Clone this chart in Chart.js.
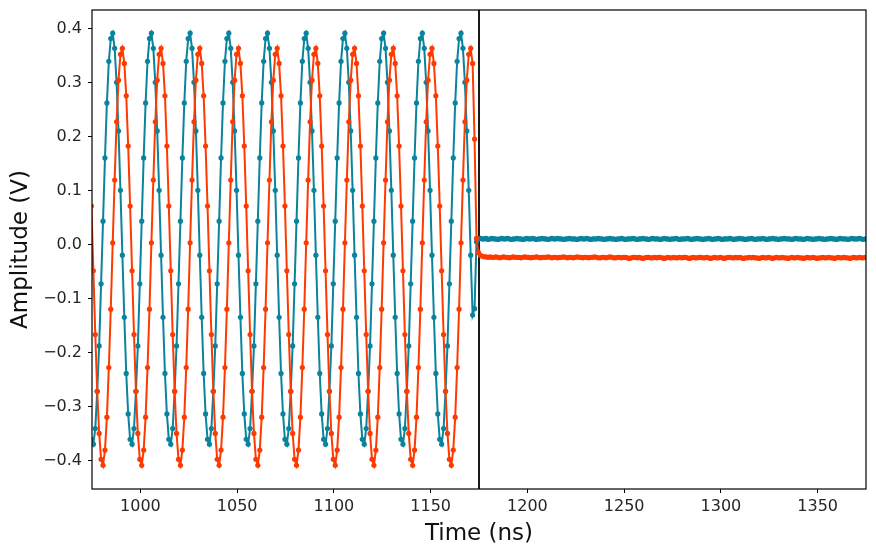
<!DOCTYPE html>
<html>
<head>
<meta charset="utf-8">
<title>Amplitude vs Time</title>
<script src="https://cdn.jsdelivr.net/npm/chart.js@4.4.1/dist/chart.umd.min.js"></script>
<style>
  html, body { margin: 0; padding: 0; background: #fff; }
  #wrap { width: 876px; height: 556px; }
</style>
</head>
<body>
<div id="wrap"><canvas id="waveChart" width="876" height="556"></canvas></div>
<script>
// sampling grid (ns): one sample per ns, first sample just left of the window
const T_START = 974.7;
const T_STEP = 1;
const MARKER_TIME = 1175;

const X_TICKS = [1000, 1050, 1100, 1150, 1200, 1250, 1300, 1350];
const Y_TICKS = [-0.4, -0.3, -0.2, -0.1, 0.0, 0.1, 0.2, 0.3, 0.4];

// channel 1 (teal), volts
const ch1Values = [
  -0.361,
  -0.370, -0.341, -0.272, -0.188, -0.073, 0.043, 0.160, 0.262, 0.339, 0.381,
  0.391, 0.363, 0.300, 0.210, 0.100, -0.020, -0.135, -0.239, -0.314, -0.361, -0.370, -0.341, -0.272, -0.188, -0.073, 0.043, 0.160, 0.262, 0.339, 0.381,
  0.391, 0.363, 0.300, 0.210, 0.100, -0.020, -0.135, -0.239, -0.314, -0.361, -0.370, -0.341, -0.272, -0.188, -0.073, 0.043, 0.160, 0.262, 0.339, 0.381,
  0.391, 0.363, 0.300, 0.210, 0.100, -0.020, -0.135, -0.239, -0.314, -0.361, -0.370, -0.341, -0.272, -0.188, -0.073, 0.043, 0.160, 0.262, 0.339, 0.381,
  0.391, 0.363, 0.300, 0.210, 0.100, -0.020, -0.135, -0.239, -0.314, -0.361, -0.370, -0.341, -0.272, -0.188, -0.073, 0.043, 0.160, 0.262, 0.339, 0.381,
  0.391, 0.363, 0.300, 0.210, 0.100, -0.020, -0.135, -0.239, -0.314, -0.361, -0.370, -0.341, -0.272, -0.188, -0.073, 0.043, 0.160, 0.262, 0.339, 0.381,
  0.391, 0.363, 0.300, 0.210, 0.100, -0.020, -0.135, -0.239, -0.314, -0.361, -0.370, -0.341, -0.272, -0.188, -0.073, 0.043, 0.160, 0.262, 0.339, 0.381,
  0.391, 0.363, 0.300, 0.210, 0.100, -0.020, -0.135, -0.239, -0.314, -0.361, -0.370, -0.341, -0.272, -0.188, -0.073, 0.043, 0.160, 0.262, 0.339, 0.381,
  0.391, 0.363, 0.300, 0.210, 0.100, -0.020, -0.135, -0.239, -0.314, -0.361, -0.370, -0.341, -0.272, -0.188, -0.073, 0.043, 0.160, 0.262, 0.339, 0.381,
  0.391, 0.363, 0.300, 0.210, 0.100, -0.020, -0.135, -0.239, -0.314, -0.361, -0.370, -0.341, -0.272, -0.188, -0.073, 0.043, 0.160, 0.262, 0.339, 0.381,
  0.391, 0.363, 0.300, 0.210, 0.100, -0.020, -0.131, -0.119, 0.005, 0.010,
  0.011, 0.010, 0.010, 0.011, 0.009, 0.010, 0.011, 0.010, 0.010, 0.009, 0.010, 0.011, 0.010, 0.010, 0.011, 0.010, 0.009, 0.010, 0.010, 0.011,
  0.010, 0.010, 0.009, 0.010, 0.011, 0.010, 0.010, 0.011, 0.010, 0.009, 0.010, 0.010, 0.011, 0.010, 0.010, 0.009, 0.010, 0.011, 0.010, 0.010,
  0.011, 0.010, 0.010, 0.009, 0.010, 0.010, 0.011, 0.010, 0.010, 0.010, 0.009, 0.010, 0.011, 0.010, 0.010, 0.011, 0.010, 0.009, 0.010, 0.010,
  0.010, 0.011, 0.010, 0.010, 0.009, 0.010, 0.010, 0.011, 0.010, 0.010, 0.009, 0.010, 0.010, 0.011, 0.010, 0.009, 0.010, 0.010, 0.010, 0.011,
  0.010, 0.009, 0.010, 0.010, 0.011, 0.010, 0.010, 0.009, 0.010, 0.011, 0.010, 0.010, 0.010, 0.009, 0.010, 0.011, 0.010, 0.010, 0.009, 0.010,
  0.010, 0.011, 0.010, 0.009, 0.010, 0.010, 0.010, 0.011, 0.010, 0.009, 0.010, 0.010, 0.011, 0.010, 0.010, 0.009, 0.010, 0.010, 0.011, 0.010,
  0.009, 0.010, 0.010, 0.011, 0.010, 0.009, 0.010, 0.010, 0.010, 0.011, 0.010, 0.009, 0.010, 0.010, 0.011, 0.010, 0.010, 0.009, 0.010, 0.010,
  0.011, 0.010, 0.009, 0.010, 0.010, 0.010, 0.011, 0.010, 0.009, 0.010, 0.010, 0.011, 0.010, 0.010, 0.009, 0.010, 0.010, 0.011, 0.010, 0.010,
  0.010, 0.009, 0.010, 0.011, 0.010, 0.010, 0.010, 0.009, 0.010, 0.011, 0.010, 0.010, 0.009, 0.010, 0.010, 0.011, 0.010, 0.010, 0.009, 0.010,
  0.010, 0.011, 0.010, 0.010, 0.009, 0.010, 0.011, 0.010, 0.010, 0.010, 0.009, 0.010, 0.011, 0.010, 0.010, 0.010, 0.011, 0.010, 0.009, 0.010
];

// channel 2 (orange), volts
const ch2Values = [
  0.071,
  -0.049, -0.167, -0.272, -0.350, -0.398, -0.409, -0.381, -0.320, -0.228, -0.120,
  0.003, 0.119, 0.227, 0.304, 0.352, 0.363, 0.335, 0.275, 0.182, 0.071, -0.049, -0.167, -0.272, -0.350, -0.398, -0.409, -0.381, -0.320, -0.228, -0.120,
  0.003, 0.119, 0.227, 0.304, 0.352, 0.363, 0.335, 0.275, 0.182, 0.071, -0.049, -0.167, -0.272, -0.350, -0.398, -0.409, -0.381, -0.320, -0.228, -0.120,
  0.003, 0.119, 0.227, 0.304, 0.352, 0.363, 0.335, 0.275, 0.182, 0.071, -0.049, -0.167, -0.272, -0.350, -0.398, -0.409, -0.381, -0.320, -0.228, -0.120,
  0.003, 0.119, 0.227, 0.304, 0.352, 0.363, 0.335, 0.275, 0.182, 0.071, -0.049, -0.167, -0.272, -0.350, -0.398, -0.409, -0.381, -0.320, -0.228, -0.120,
  0.003, 0.119, 0.227, 0.304, 0.352, 0.363, 0.335, 0.275, 0.182, 0.071, -0.049, -0.167, -0.272, -0.350, -0.398, -0.409, -0.381, -0.320, -0.228, -0.120,
  0.003, 0.119, 0.227, 0.304, 0.352, 0.363, 0.335, 0.275, 0.182, 0.071, -0.049, -0.167, -0.272, -0.350, -0.398, -0.409, -0.381, -0.320, -0.228, -0.120,
  0.003, 0.119, 0.227, 0.304, 0.352, 0.363, 0.335, 0.275, 0.182, 0.071, -0.049, -0.167, -0.272, -0.350, -0.398, -0.409, -0.381, -0.320, -0.228, -0.120,
  0.003, 0.119, 0.227, 0.304, 0.352, 0.363, 0.335, 0.275, 0.182, 0.071, -0.049, -0.167, -0.272, -0.350, -0.398, -0.409, -0.381, -0.320, -0.228, -0.120,
  0.003, 0.119, 0.227, 0.304, 0.352, 0.363, 0.335, 0.275, 0.182, 0.071, -0.049, -0.167, -0.272, -0.350, -0.398, -0.409, -0.381, -0.320, -0.228, -0.120,
  0.003, 0.119, 0.227, 0.304, 0.352, 0.363, 0.335, 0.195, 0.011, -0.015,
  -0.020, -0.022, -0.023, -0.023, -0.024, -0.023, -0.024, -0.024, -0.023, -0.024, -0.025, -0.024, -0.023, -0.024, -0.024, -0.025, -0.024, -0.023, -0.024, -0.024,
  -0.024, -0.025, -0.024, -0.023, -0.024, -0.024, -0.025, -0.024, -0.024, -0.023, -0.024, -0.025, -0.024, -0.024, -0.024, -0.023, -0.024, -0.025, -0.024, -0.024,
  -0.025, -0.024, -0.024, -0.023, -0.024, -0.025, -0.024, -0.024, -0.025, -0.024, -0.023, -0.024, -0.024, -0.025, -0.024, -0.024, -0.025, -0.024, -0.024, -0.023,
  -0.024, -0.025, -0.025, -0.024, -0.024, -0.025, -0.024, -0.023, -0.024, -0.025, -0.025, -0.024, -0.024, -0.025, -0.024, -0.024, -0.025, -0.026, -0.025, -0.024,
  -0.024, -0.025, -0.024, -0.025, -0.026, -0.025, -0.024, -0.024, -0.025, -0.025, -0.024, -0.025, -0.024, -0.024, -0.025, -0.026, -0.025, -0.024, -0.025, -0.025,
  -0.024, -0.025, -0.025, -0.024, -0.025, -0.024, -0.024, -0.025, -0.026, -0.025, -0.024, -0.025, -0.025, -0.024, -0.024, -0.025, -0.025, -0.024, -0.025, -0.026,
  -0.025, -0.024, -0.025, -0.025, -0.024, -0.025, -0.026, -0.025, -0.024, -0.024, -0.025, -0.025, -0.024, -0.025, -0.024, -0.025, -0.026, -0.025, -0.025, -0.024,
  -0.025, -0.024, -0.025, -0.025, -0.026, -0.025, -0.024, -0.025, -0.025, -0.024, -0.025, -0.026, -0.025, -0.024, -0.025, -0.025, -0.024, -0.025, -0.025, -0.026,
  -0.025, -0.024, -0.025, -0.025, -0.024, -0.025, -0.025, -0.026, -0.025, -0.024, -0.025, -0.025, -0.024, -0.025, -0.026, -0.025, -0.025, -0.024, -0.025, -0.025,
  -0.024, -0.025, -0.025, -0.026, -0.025, -0.024, -0.025, -0.025, -0.024, -0.025, -0.025, -0.026, -0.025, -0.024, -0.025, -0.025, -0.024, -0.025, -0.025, -0.024
];

const X_MIN = 975, X_MAX = 1375;
const Y_MIN = -0.453, Y_MAX = 0.434;

const TEAL = '#0a839c';
const ORANGE = '#ff3a00';
const FONT = "'DejaVu Sans', sans-serif";

function toPoints(values) {
    return values.map((v, i) => ({ x: T_START + i * T_STEP, y: v }));
}

// black frame around the plot area
const framePlugin = {
    id: 'frame',
    afterDatasetsDraw(chart) {
        const { ctx, chartArea: a } = chart;
        ctx.save();
        ctx.strokeStyle = '#000';
        ctx.lineWidth = 1.2;
        ctx.strokeRect(a.left, a.top, a.right - a.left, a.bottom - a.top);
        ctx.restore();
    }
};

document.addEventListener('DOMContentLoaded', function() {
    const ctx = document.getElementById('waveChart').getContext('2d');

    new Chart(ctx, {
        type: 'line',
        data: {
            datasets: [
                {
                    label: 'marker',
                    data: [{ x: MARKER_TIME, y: Y_MIN }, { x: MARKER_TIME, y: Y_MAX }],
                    borderColor: '#000',
                    borderWidth: 1.8,
                    pointRadius: 0,
                    order: 3
                },
                {
                    label: 'CH1',
                    data: toPoints(ch1Values),
                    borderColor: TEAL,
                    backgroundColor: TEAL,
                    borderWidth: 2,
                    pointRadius: 2.6,
                    pointBorderWidth: 0,
                    order: 2
                },
                {
                    label: 'CH2',
                    data: toPoints(ch2Values),
                    borderColor: ORANGE,
                    backgroundColor: ORANGE,
                    borderWidth: 2,
                    pointRadius: 2.6,
                    pointBorderWidth: 0,
                    order: 1
                }
            ]
        },
        options: {
            responsive: false,
            animation: false,
            devicePixelRatio: 1,
            clip: 0,
            layout: { padding: { top: 10, right: 10, left: 0, bottom: 0 } },
            elements: { line: { tension: 0 } },
            plugins: {
                legend: { display: false },
                tooltip: { enabled: false }
            },
            scales: {
                x: {
                    type: 'linear',
                    min: X_MIN,
                    max: X_MAX,
                    afterBuildTicks: s => { s.ticks = X_TICKS.map(v => ({ value: v })); },
                    afterFit: s => { s.height = 67; s.paddingLeft = 0; s.paddingRight = 0; },
                    grid: { drawOnChartArea: false, drawTicks: true, tickLength: 4, tickColor: '#000', tickWidth: 1 },
                    border: { display: false },
                    ticks: {
                        color: '#262626',
                        font: { family: FONT, size: 16 },
                        padding: 4,
                        maxRotation: 0,
                        callback: v => String(v)
                    },
                    title: { display: true, text: 'Time (ns)', color: '#111', font: { family: FONT, size: 23 }, padding: { top: 0, bottom: 8 } }
                },
                y: {
                    type: 'linear',
                    min: Y_MIN,
                    max: Y_MAX,
                    afterBuildTicks: s => { s.ticks = Y_TICKS.map(v => ({ value: v })); },
                    afterFit: s => { s.width = 92; s.paddingTop = 0; s.paddingBottom = 0; },
                    grid: { drawOnChartArea: false, drawTicks: true, tickLength: 4, tickColor: '#000', tickWidth: 1 },
                    border: { display: false },
                    ticks: {
                        color: '#262626',
                        font: { family: FONT, size: 16 },
                        padding: 6,
                        callback: v => v.toFixed(1).replace('-', '\u2212')
                    },
                    title: { display: true, text: 'Amplitude (V)', color: '#111', font: { family: FONT, size: 23 }, padding: { top: 7, bottom: 0 } }
                }
            }
        },
        plugins: [framePlugin]
    });
});
</script>
</body>
</html>
